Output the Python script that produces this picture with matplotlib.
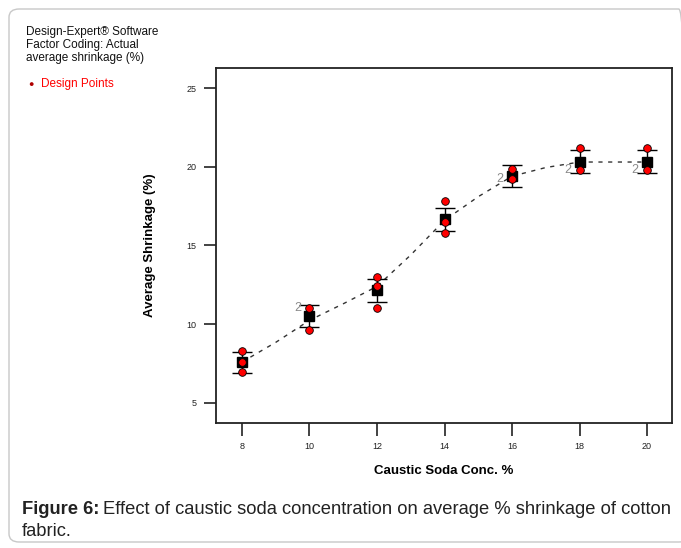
import matplotlib
matplotlib.use("Agg")
import matplotlib.pyplot as plt
from matplotlib.patches import FancyBboxPatch

# caustic soda concentration levels (%)
conc = [8, 10, 12, 14, 16, 18, 20]
mean_shrinkage = [7.6, 10.55, 12.15, 16.7, 19.4, 20.3, 20.3]
lsd_upper = [8.25, 11.2, 12.85, 17.4, 20.1, 21.05, 21.05]
lsd_lower = [6.9, 9.85, 11.4, 15.95, 18.7, 19.6, 19.6]

# individual design points
point_x = [8, 8, 8, 10, 10, 12, 12, 12, 14, 14, 14, 16, 16, 18, 18, 20, 20]
point_y = [8.3, 7.6, 6.95, 11.05, 9.65, 13.0, 12.4, 11.0, 17.85, 16.5, 15.8,
           19.85, 19.2, 21.2, 19.8, 21.2, 19.8]

# duplicated points, marked with "2"
dup_x = [10, 16, 18, 20]
dup_y = [11.05, 19.2, 19.8, 19.8]

# model prediction line
line_x = [8, 9, 10, 11, 12, 13, 14, 15, 16, 17, 18, 19, 20]
line_y = [7.6, 8.85, 10.25, 11.3, 12.4, 14.4, 16.6, 18.1, 19.4, 19.95, 20.3, 20.3, 20.3]

plt.rcParams["font.family"] = ["Liberation Sans", "DejaVu Sans"]

fig = plt.figure(figsize=(6.81, 5.48), dpi=100)
W, H = 681, 548

# rounded frame around the figure
frame = FancyBboxPatch((9 / W, 6 / H), 680 / W, 533 / H,
                       boxstyle="round,pad=0,rounding_size=0.015",
                       transform=fig.transFigure, fill=False,
                       edgecolor="#c8c8c8", linewidth=1.0)
fig.patches.append(frame)

ax = fig.add_axes([216 / W, 1 - 423 / H, (672 - 216) / W, (423 - 68) / H])

ax.plot(line_x, line_y, linestyle=(0, (3, 4)), color="#333333", linewidth=1.0, zorder=2)
ax.errorbar(conc, mean_shrinkage, yerr=[[m - l for m, l in zip(mean_shrinkage, lsd_lower)],
                                        [u - m for u, m in zip(lsd_upper, mean_shrinkage)]],
            fmt="none", ecolor="black", elinewidth=1.0, capsize=7, capthick=1.0, zorder=3)
ax.plot(conc, mean_shrinkage, "s", color="black", markersize=6.5, zorder=4)
ax.plot(point_x, point_y, "o", markerfacecolor="red", markeredgecolor="black",
        markeredgewidth=0.6, markersize=5.5, zorder=5)

for dx, dy in zip(dup_x, dup_y):
    ax.annotate("2", (dx, dy), xytext=(-6, 0), textcoords="offset points",
                ha="right", va="center", fontsize=9, color="#8a8a8a", zorder=6)

ax.set_xlim(7.23, 20.74)
ax.set_ylim(3.73, 26.27)
ax.set_xticks(conc)
ax.set_yticks([5, 10, 15, 20, 25])

for s in ax.spines.values():
    s.set_linewidth(1.3)
    s.set_color("#222222")
ax.tick_params(direction="out", length=9, width=1.2, colors="#222222",
               labelsize=6.5, labelcolor="#222222", pad=5)

ax.set_xlabel("Caustic Soda Conc. %", fontsize=9.5, fontweight="bold", labelpad=10)
ax.set_ylabel("Average Shrinkage (%)", fontsize=9.5, fontweight="bold", labelpad=22)

# header notes
fig.text(26 / W, 1 - 26 / H, "Design-Expert® Software\nFactor Coding: Actual\naverage shrinkage (%)",
         fontsize=8.5, va="top", ha="left", linespacing=1.1, color="#111111")
fig.text(31 / W, 1 - 85 / H, "●", fontsize=6.5, color="#b00000", ha="center", va="center")
fig.text(41 / W, 1 - 84 / H, "Design Points", fontsize=8.5, color="red", va="center", ha="left")

# caption
cap1 = fig.text(22 / W, 1 - 509 / H, "Figure 6:", fontsize=13.2, fontweight="bold",
                va="center", ha="left", color="#222222")
renderer = fig.canvas.get_renderer()
bb = cap1.get_window_extent(renderer)
fig.text(bb.x1 / W + 4 / W, 1 - 509 / H,
         "Effect of caustic soda concentration on average % shrinkage of cotton",
         fontsize=13.2, va="center", ha="left", color="#222222")
fig.text(22 / W, 1 - 531 / H, "fabric.", fontsize=13.2, va="center", ha="left", color="#222222")

fig.savefig("out.png", dpi=100)
